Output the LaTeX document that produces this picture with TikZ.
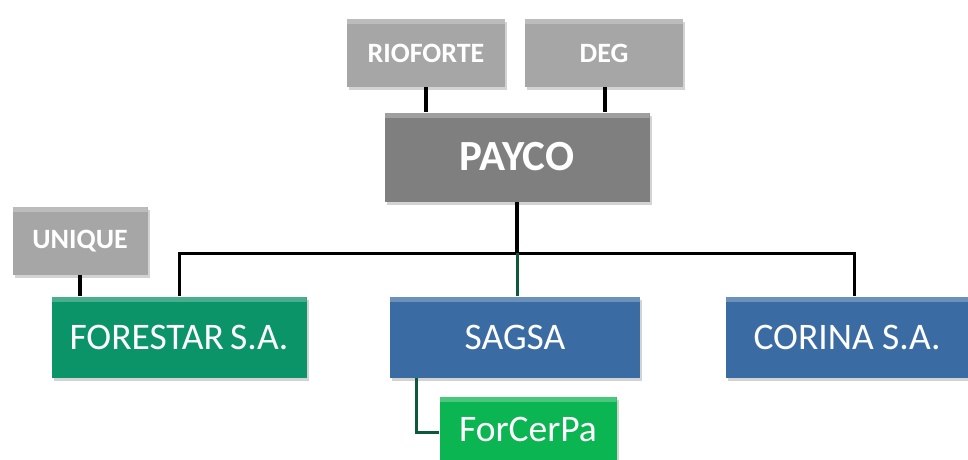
\documentclass[tikz,border=0pt]{standalone}
\usepackage{fontspec}
\setmainfont{Carlito}
\usepackage{xcolor}
\usetikzlibrary{positioning, shadows}
\definecolor{boxgray}{HTML}{A6A6A6}
\definecolor{paycogray}{HTML}{7F7F7F}
\definecolor{forestgreen}{HTML}{0B9468}
\definecolor{sagsablue}{HTML}{3A6CA3}
\definecolor{brightgreen}{HTML}{0BB552}
\definecolor{linkgreen}{HTML}{0B5A3A}
\tikzstyle{bevel} = [path picture={\fill[white, opacity=0.25] (path picture bounding box.north west) rectangle ([yshift=-5pt]path picture bounding box.north east);}, drop shadow={opacity=0.35, shadow xshift=2pt, shadow yshift=-3pt}]
\tikzstyle{owner} = [rectangle, bevel, fill=boxgray, text=white, font=\fontsize{28}{32}\selectfont\bfseries, minimum width=158pt, minimum height=68pt, inner sep=0pt]
\tikzstyle{holding} = [rectangle, bevel, fill=paycogray, text=white, font=\fontsize{43}{48}\selectfont\bfseries, minimum width=265pt, minimum height=89pt, inner sep=0pt]
\tikzstyle{company} = [rectangle, bevel, text=white, font=\fontsize{37.5}{42}\selectfont, minimum height=81pt, inner sep=0pt]
\tikzstyle{link} = [line width=4pt, black]
\tikzstyle{glink} = [line width=3pt, linkgreen]

\begin{document}
\begin{tikzpicture}[x=1pt, y=-1pt]
\useasboundingbox (0,0) rectangle (968,459);

\node (rioforte) [owner] at (426,53) {RIOFORTE};
\node (deg) [owner] at (604,53) {DEG};
\node (payco) [holding] at (517,157) {PAYCO};
\node (unique) [owner, minimum width=135pt] at (80,241) {UNIQUE};
\node (forestar) [company, fill=forestgreen, minimum width=255pt] at (179,337) {FORESTAR\,S.A.};
\node (sagsa) [company, fill=sagsablue, minimum width=250pt] at (515,337) {SAGSA};
\node (corina) [company, fill=sagsablue, minimum width=242pt] at (847,337) {CORINA S.A.};
\node (forcerpa) [company, fill=brightgreen, minimum width=177pt, minimum height=64pt] at (528,429) {ForCerPa};
\coordinate (bus) at (517,253);

\draw [link] (rioforte.south) -- (rioforte.south |- payco.north);
\draw [link] ([xshift=1pt]deg.south) -- ([xshift=1pt]deg.south |- payco.north);
\draw [link] (payco.south) -- (bus);
\draw [link] (unique.south) -- (unique.south |- forestar.north);
\draw [link, line width=3pt] (forestar.north) |- (bus) -| ([xshift=7pt]corina.north);
\draw [glink] (bus) -- (bus |- sagsa.north);
\draw [glink] ([xshift=27pt]sagsa.south west) |- ([yshift=-3pt]forcerpa.west);

\end{tikzpicture}
\end{document}
